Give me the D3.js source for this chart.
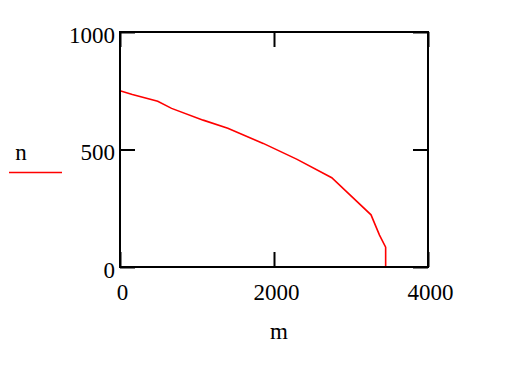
<!DOCTYPE html>
<html>
<head>
<meta charset="utf-8">
<script src="https://cdn.jsdelivr.net/npm/d3@7"></script>
<style>
  html, body { margin: 0; padding: 0; background: #fff; }
  svg { display: block; font-family: "Liberation Serif", "Times New Roman", serif; }
</style>
</head>
<body>
<div id="chart"></div>
<script>
// data
const mValues = [0, 160, 490, 670, 1080, 1400, 1860, 2300, 2750, 3260, 3370, 3450, 3450];
const nValues = [750, 734, 705, 675, 625, 590, 526, 458, 380, 222, 136, 84, 0];
const xTicks = [0, 2000, 4000];
const yTicks = [0, 500, 1000];
const seriesName = "n";
const xName = "m";

const W = 506, H = 368;
const margin = { top: 32, right: 78, bottom: 101, left: 120 };
const innerW = W - margin.left - margin.right;   // 308
const innerH = H - margin.top - margin.bottom;   // 235
const fontSize = 23;

const svg = d3.select("#chart").append("svg")
  .attr("width", W)
  .attr("height", H);

const g = svg.append("g")
  .attr("transform", `translate(${margin.left},${margin.top})`);

const x = d3.scaleLinear().domain([0, 4000]).range([0, innerW]);
const y = d3.scaleLinear().domain([0, 1000]).range([innerH, 0]);

const points = mValues.map((m, i) => ({ m, n: nValues[i] }));

// curve
g.append("path")
  .datum(points)
  .attr("fill", "none")
  .attr("stroke", "#ff0000")
  .attr("stroke-width", 1.6)
  .attr("d", d3.line().x(d => x(d.m)).y(d => y(d.n)));

const tick = 15;
function styleAxis(ax) {
  ax.select(".domain").remove();
  ax.selectAll(".tick line").attr("stroke", "#000").attr("stroke-width", 2);
}

// bottom axis with labels
g.append("g")
  .attr("transform", `translate(0,${innerH})`)
  .call(d3.axisBottom(x).tickValues(xTicks).tickSize(-tick).tickFormat(d3.format("d")))
  .call(styleAxis)
  .call(ax => ax.selectAll("text")
    .attr("y", 33)
    .attr("dy", 0)
    .attr("dx", 2)
    .attr("font-size", fontSize)
    .attr("font-family", "Liberation Serif, serif")
    .attr("fill", "#000"));

// top axis, ticks only
g.append("g")
  .call(d3.axisTop(x).tickValues(xTicks).tickSize(-tick).tickFormat(""))
  .call(styleAxis);

// left axis with labels
g.append("g")
  .call(d3.axisLeft(y).tickValues(yTicks).tickSize(-tick).tickFormat(d3.format("d")))
  .call(styleAxis)
  .call(ax => ax.selectAll("text")
    .attr("x", -5)
    .attr("dy", 10)
    .attr("font-size", fontSize)
    .attr("font-family", "Liberation Serif, serif")
    .attr("fill", "#000"));

// right axis, ticks only
g.append("g")
  .attr("transform", `translate(${innerW},0)`)
  .call(d3.axisRight(y).tickValues(yTicks).tickSize(-tick).tickFormat(""))
  .call(styleAxis);

// frame
g.append("rect")
  .attr("width", innerW)
  .attr("height", innerH)
  .attr("fill", "none")
  .attr("stroke", "#000")
  .attr("stroke-width", 2);

// x title
svg.append("text")
  .attr("x", 279)
  .attr("y", 339)
  .attr("text-anchor", "middle")
  .attr("font-size", fontSize)
  .text(xName);

// legend
svg.append("text")
  .attr("x", 21)
  .attr("y", 160)
  .attr("text-anchor", "middle")
  .attr("font-size", fontSize)
  .text(seriesName);

svg.append("line")
  .attr("x1", 9).attr("x2", 62)
  .attr("y1", 172.5).attr("y2", 172.5)
  .attr("stroke", "#ff0000")
  .attr("stroke-width", 1.6);
</script>
</body>
</html>
